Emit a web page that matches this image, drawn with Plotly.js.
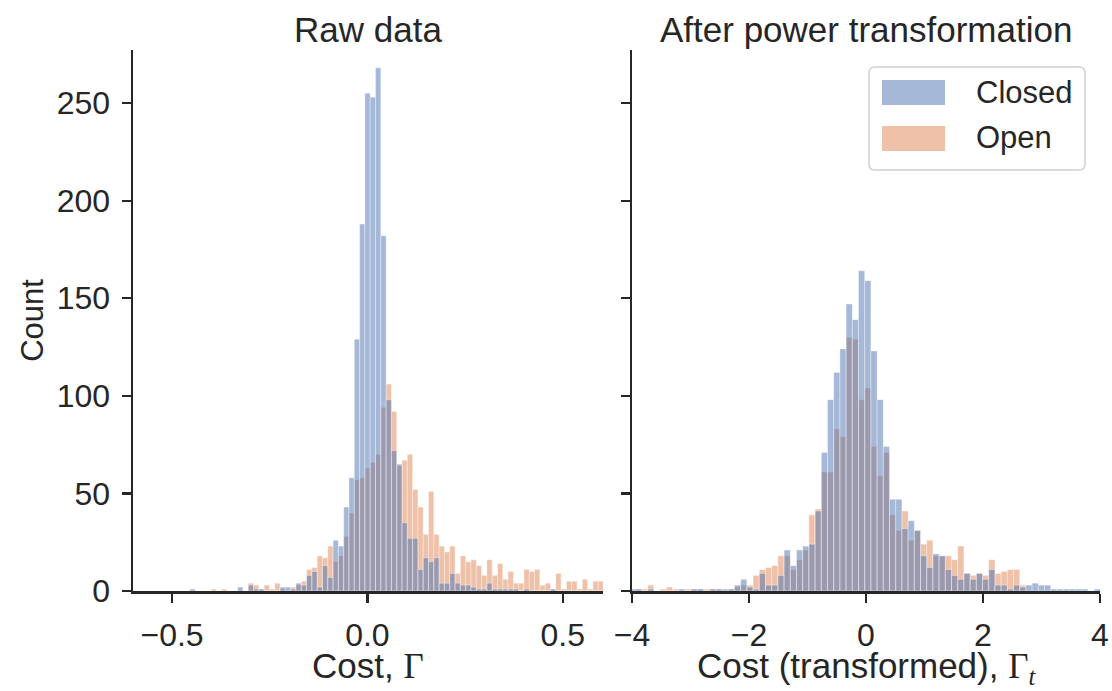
<!DOCTYPE html>
<html><head><meta charset="utf-8">
<script src="https://cdn.plot.ly/plotly-3.0.1.min.js"></script>
<style>html,body{margin:0;padding:0;background:#fff;}</style>
</head><body>
<div id="chart" style="width:1112px;height:691px;"></div>
<script>
// ---- data ----
const seriesNames = ['Closed', 'Open'];
const panelTitles = ['Raw data', 'After power transformation'];
const xTitles = ['Cost, <span style="font-family:Liberation Serif">Γ</span>',
                 'Cost (transformed), <span style="font-family:Liberation Serif">Γ<sub><i>t</i></sub></span>'];
const yTitle = 'Count';
const yTicks = [0, 50, 100, 150, 200, 250];
const rawXTicks = [-0.5, 0, 0.5];
const trXTicks = [-4, -2, 0, 2, 4];

// raw data histogram (bin left edge = rawBinStart + i*rawBinWidth)
const rawBinStart = -0.6036;
const rawBinWidth = 0.013572;
const rawClosed = [0,0,0,0,0,0,0,0,0,0, 0,1,0,0,0,0,0,0,0,0,
  2,0,3,1,1,0,0,0,2,2, 1,4,3,8,10,2,13,7,26,23,
  43,58,129,188,255,253,268,182,98,72, 65,35,27,27,11,17,15,17,4,4,
  9,4,3,3,2,1,1,4,1,1, 1,1,1,0,1,0,0,0,0,1, 0,0,0,0,0,0,0,0,0];
const rawOpen = [0,0,0,0,0,0,0,0,0,0, 0,0,0,0,0,1,0,1,0,0,
  0,0,4,3,1,3,1,4,1,0, 2,3,5,11,12,18,17,23,15,18,
  28,40,57,58,63,66,70,94,106,92, 64,67,70,52,43,29,51,29,23,20,
  23,9,18,15,16,13,8,16,8,14, 6,10,4,4,11,10,11,3,4,1, 9,1,5,5,1,6,1,5,5];

// transformed histogram
const trBinStart = -4.05;
const trBinWidth = 0.106;
const trClosed = [1,1,0,1,0,0,0,0,1,0, 1,1,0,1,1,1,1,3,6,2,
  1,9,3,3,8,21,13,21,23,24, 41,71,98,112,124,147,139,164,159,123,
  98,74,47,47,32,36,31,18,12,19, 18,11,8,6,9,6,9,6,11,3,
  3,1,3,2,3,4,3,3,1,1, 1,1,1,1,0,1,0];
const trOpen = [0,1,1,3,0,1,2,1,0,1, 1,1,1,1,1,0,1,2,3,3,
  8,11,12,13,18,18,11,16,21,39, 42,61,61,83,79,130,129,98,104,74,
  59,71,39,31,41,26,31,24,26,18, 18,18,16,23,9,8,9,8,16,9,
  10,11,11,3,0,0,0,0,0,0, 0,0,0,0,0,0,0];

// ---- styling ----
const W = 1112, H = 691;
const PL = 133, PR = 1100, PT = 50, PB = 591;
const INK = '#262626';
const FONT = 'Liberation Sans, Arial, Helvetica, sans-serif';
const blueFill = 'rgba(76,114,176,0.5)';
const orangeFill = 'rgba(221,132,82,0.5)';
const edge = {color: 'rgba(255,255,255,0.55)', width: 0.7};
const px = x => (x - PL) / (PR - PL);
const py = y => (PB - y) / (PB - PT);

function centers(start, width, n) {
  const c = [];
  for (let i = 0; i < n; i++) c.push(start + (i + 0.5) * width);
  return c;
}

const traces = [
  {type: 'bar', x: centers(rawBinStart, rawBinWidth, rawOpen.length), y: rawOpen, width: rawBinWidth,
   name: seriesNames[1], marker: {color: orangeFill, line: edge}, xaxis: 'x', yaxis: 'y', showlegend: false, hoverinfo: 'x+y+name'},
  {type: 'bar', x: centers(rawBinStart, rawBinWidth, rawClosed.length), y: rawClosed, width: rawBinWidth,
   name: seriesNames[0], marker: {color: blueFill, line: edge}, xaxis: 'x', yaxis: 'y', showlegend: false, hoverinfo: 'x+y+name'},
  {type: 'bar', x: centers(trBinStart, trBinWidth, trOpen.length), y: trOpen, width: trBinWidth,
   name: seriesNames[1], marker: {color: orangeFill, line: edge}, xaxis: 'x2', yaxis: 'y2', showlegend: false, hoverinfo: 'x+y+name'},
  {type: 'bar', x: centers(trBinStart, trBinWidth, trClosed.length), y: trClosed, width: trBinWidth,
   name: seriesNames[0], marker: {color: blueFill, line: edge}, xaxis: 'x2', yaxis: 'y2', showlegend: false, hoverinfo: 'x+y+name'}
];

const TICK_SIZE = 32, LABEL_SIZE = 35, TITLE_SIZE = 35, LEGEND_SIZE = 31;
const axisCommon = {
  showgrid: false, zeroline: false, showline: true, linecolor: INK, linewidth: 2.5,
  ticks: 'outside', ticklen: 9, tickwidth: 2.2, tickcolor: INK,
  tickfont: {family: FONT, size: TICK_SIZE, color: INK}, layer: 'above traces'
};
const yRange = [0, (PB - PT) / 1.952];

function textAnn(text, x, y, size, xanchor, yanchor) {
  return {text: text, xref: 'paper', yref: 'paper', x: px(x), y: py(y), xanchor: xanchor, yanchor: yanchor,
          showarrow: false, font: {family: FONT, size: size, color: INK}};
}

const layout = {
  width: W, height: H,
  margin: {l: PL, r: W - PR, t: PT, b: H - PB, pad: 0},
  paper_bgcolor: '#ffffff', plot_bgcolor: '#ffffff',
  font: {family: FONT, color: INK},
  barmode: 'overlay', bargap: 0,
  showlegend: false,
  xaxis: Object.assign({}, axisCommon, {domain: [0, px(603)], range: [-0.6, 0.603],
    tickvals: rawXTicks, tickformat: '.1f', anchor: 'y', ticklabelstandoff: 5}),
  xaxis2: Object.assign({}, axisCommon, {domain: [px(632), 1], range: [-4, 4],
    tickvals: trXTicks, tickformat: 'd', anchor: 'y2', ticklabelstandoff: 5}),
  yaxis: Object.assign({}, axisCommon, {domain: [0, 1], range: yRange, tickvals: yTicks, anchor: 'x',
    ticklabelstandoff: 5,
    title: {text: yTitle, font: {family: FONT, size: 31, color: INK}, standoff: 4}}),
  yaxis2: Object.assign({}, axisCommon, {domain: [0, 1], range: yRange, tickvals: yTicks, anchor: 'x2',
    matches: 'y', showticklabels: false}),
  annotations: [
    textAnn(panelTitles[0], 367.5, 30, TITLE_SIZE, 'center', 'middle'),
    textAnn(panelTitles[1], 866, 30, TITLE_SIZE, 'center', 'middle'),
    textAnn(xTitles[0], 367.5, 644, LABEL_SIZE, 'center', 'top'),
    textAnn(xTitles[1], 866, 644, LABEL_SIZE, 'center', 'top'),
    textAnn(seriesNames[0], 974, 92, LEGEND_SIZE, 'left', 'middle'),
    textAnn(seriesNames[1], 974, 138, LEGEND_SIZE, 'left', 'middle')
  ],
  shapes: []
};

// legend frame (rounded) and patches
function roundedRect(x0, y0, x1, y1, r) {
  const X = v => px(v).toFixed(5), Y = v => py(v).toFixed(5);
  return 'M' + X(x0 + r) + ',' + Y(y0) + ' L' + X(x1 - r) + ',' + Y(y0) +
    ' Q' + X(x1) + ',' + Y(y0) + ' ' + X(x1) + ',' + Y(y0 + r) +
    ' L' + X(x1) + ',' + Y(y1 - r) + ' Q' + X(x1) + ',' + Y(y1) + ' ' + X(x1 - r) + ',' + Y(y1) +
    ' L' + X(x0 + r) + ',' + Y(y1) + ' Q' + X(x0) + ',' + Y(y1) + ' ' + X(x0) + ',' + Y(y1 - r) +
    ' L' + X(x0) + ',' + Y(y0 + r) + ' Q' + X(x0) + ',' + Y(y0) + ' ' + X(x0 + r) + ',' + Y(y0) + ' Z';
}
layout.shapes.push({type: 'path', xref: 'paper', yref: 'paper', path: roundedRect(869, 67, 1085, 170, 6),
  fillcolor: 'rgba(255,255,255,0.8)', line: {color: '#d0d0d0', width: 1.5}, layer: 'above'});
layout.shapes.push({type: 'rect', xref: 'paper', yref: 'paper', x0: px(882), x1: px(945), y0: py(105), y1: py(80),
  fillcolor: blueFill, line: {width: 0}, layer: 'above'});
layout.shapes.push({type: 'rect', xref: 'paper', yref: 'paper', x0: px(882), x1: px(945), y0: py(151), y1: py(126),
  fillcolor: orangeFill, line: {width: 0}, layer: 'above'});

Plotly.newPlot('chart', traces, layout, {staticPlot: true, displayModeBar: false});
</script>
</body></html>
